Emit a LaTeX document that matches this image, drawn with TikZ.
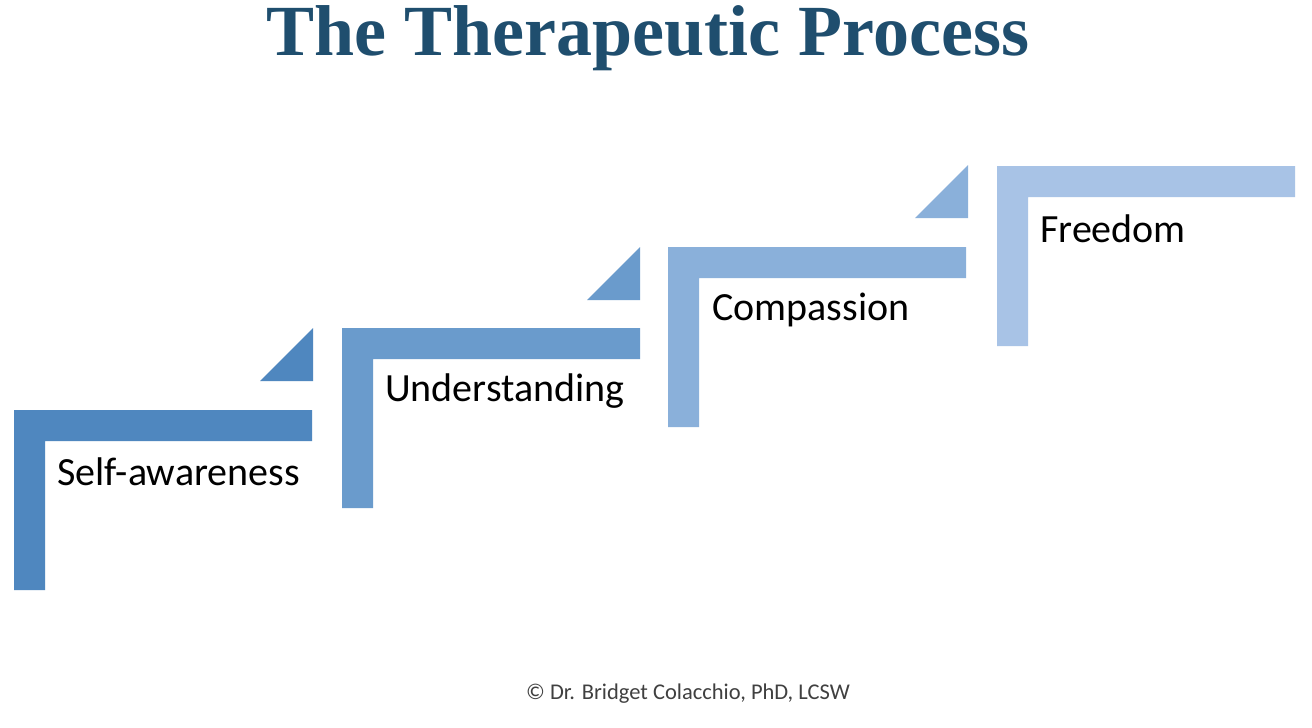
\documentclass[tikz,border=0pt]{standalone}
\usepackage{fontspec}
\setmainfont{Carlito}
\newfontfamily\titlefont{Liberation Serif}
\begin{document}
\begin{tikzpicture}[x=1pt,y=-1pt]
\definecolor{sA}{HTML}{4F87BF}\definecolor{sB}{HTML}{6A9BCC}
\definecolor{sC}{HTML}{8AB0DA}\definecolor{sD}{HTML}{A8C3E6}
\definecolor{ttl}{HTML}{1F4E6E}
\tikzset{lbl/.style={anchor=west,font=\fontsize{40}{44}\selectfont,text=black,inner sep=0}}
\useasboundingbox (0,0) rectangle (1312,728);
\fill[white] (0,0) rectangle (1312,728);
\node[font=\titlefont\bfseries\fontsize{72}{80}\selectfont,text=ttl,inner sep=0] (title) at (648,38) {The Therapeutic Process};
% steps
\foreach \x/\y/\c in {14/410/sA,342/328/sB,668/247/sC,997/166/sD}{
  \fill[\c] (\x,\y) -- (\x+298,\y) -- (\x+298,\y+31) -- (\x+31,\y+31) -- (\x+31,\y+180) -- (\x,\y+180) -- cycle;
}
\foreach \x/\y/\c in {313/328/sA,640/247/sB,968/165/sC}{
  \fill[\c] (\x,\y) -- (\x,\y+53) -- (\x-53,\y+53) -- cycle;
}
\node[lbl] (s1) at (57,472) {Self-awareness};
\node[lbl] (s2) at (385,391) {Understanding};
\node[lbl] (s3) at (712,310) {Compassion};
\node[lbl] (s4) at (1040,229) {Freedom};
\node[font=\fontsize{22.5}{26}\selectfont,text=black!75] (ft) at (688,694) {© Dr. Bridget Colacchio, PhD, LCSW};
\end{tikzpicture}
\end{document}
